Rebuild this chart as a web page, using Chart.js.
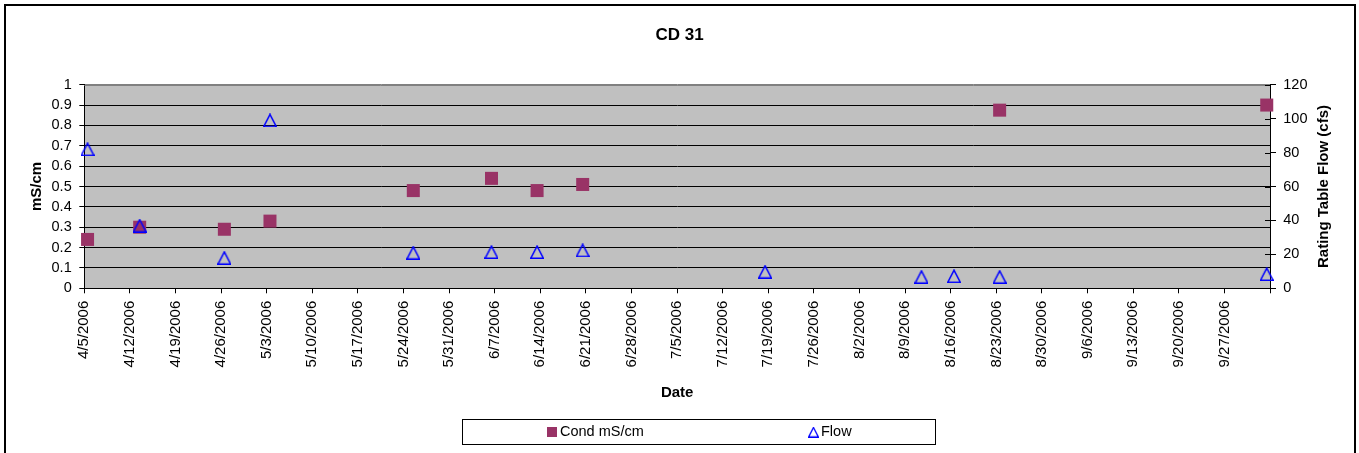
<!DOCTYPE html>
<html>
<head>
<meta charset="utf-8">
<title>CD 31</title>
<script src="https://cdn.jsdelivr.net/npm/chart.js@4.4.1/dist/chart.umd.min.js"></script>
<style>
  html, body { margin: 0; padding: 0; background: #fff; overflow: hidden; }
  #wrap { width: 1359px; height: 453px; position: relative; }
</style>
</head>
<body>
<div id="wrap"><canvas id="chart" width="1359" height="453"></canvas></div>
<script>
// ---- data ----
const axisStart = '2006-04-05';
const axisWeeks = 26;

const weekTickLabels = [
  '4/5/2006', '4/12/2006', '4/19/2006', '4/26/2006', '5/3/2006', '5/10/2006',
  '5/17/2006', '5/24/2006', '5/31/2006', '6/7/2006', '6/14/2006', '6/21/2006',
  '6/28/2006', '7/5/2006', '7/12/2006', '7/19/2006', '7/26/2006', '8/2/2006',
  '8/9/2006', '8/16/2006', '8/23/2006', '8/30/2006', '9/6/2006', '9/13/2006',
  '9/20/2006', '9/27/2006', ''
];

const condDates = [
  '2006-04-05', '2006-04-13', '2006-04-26', '2006-05-03', '2006-05-25',
  '2006-06-06', '2006-06-13', '2006-06-20', '2006-08-23', '2006-10-03'
];
const condValues = [0.24, 0.30, 0.29, 0.33, 0.48, 0.54, 0.48, 0.51, 0.875, 0.90];

const flowDates = [
  '2006-04-05', '2006-04-13', '2006-04-26', '2006-05-03', '2006-05-25',
  '2006-06-06', '2006-06-13', '2006-06-20', '2006-07-18', '2006-08-11',
  '2006-08-16', '2006-08-23', '2006-10-03'
];
const flowValues = [82, 37, 18, 99, 21, 21.4, 21.4, 22.4, 9.8, 6.8, 7.2, 6.8, 8.4];

const condTickLabels = ['0', '0.1', '0.2', '0.3', '0.4', '0.5', '0.6', '0.7', '0.8', '0.9', '1'];
const flowTickLabels = ['0', '20', '40', '60', '80', '100', '120'];

// ---- helpers ----
const FONT = "'Liberation Sans', Arial, sans-serif";
const DAY_MS = 86400000;
// each sample sits in the middle of its day on the date axis
function dayPos(d) {
  return (Date.parse(d + 'T00:00:00Z') - Date.parse(axisStart + 'T00:00:00Z')) / DAY_MS + 0.5;
}
function toPoints(dates, values) {
  return dates.map((d, i) => ({ x: dayPos(d), y: values[i] }));
}

// open blue triangle marker
function triangleMarker(w, h, lw) {
  const c = document.createElement('canvas');
  c.width = w; c.height = h;
  const g = c.getContext('2d');
  g.strokeStyle = '#0000ff';
  g.lineWidth = lw;
  g.beginPath();
  g.moveTo(w / 2, lw / 2 + 0.3);
  g.lineTo(w - lw / 2, h - lw / 2);
  g.lineTo(lw / 2, h - lw / 2);
  g.closePath();
  g.stroke();
  return c;
}
const flowMarker = triangleMarker(14, 14, 1.5);

// ---- plugins ----
const frame = {
  id: 'frame',
  beforeDraw(chart) {
    const { ctx, chartArea: a } = chart;
    ctx.save();
    ctx.fillStyle = '#ffffff';
    ctx.fillRect(0, 0, chart.width, chart.height);
    ctx.fillStyle = '#c0c0c0';
    ctx.fillRect(a.left, a.top, a.right - a.left, a.bottom - a.top);
    ctx.strokeStyle = '#000000';
    ctx.lineWidth = 2;
    ctx.strokeRect(5, 5, 1350, 470);
    ctx.restore();
  },
  afterDraw(chart) {
    const { ctx, chartArea: a } = chart;
    const y2 = chart.scales.y2;
    ctx.save();
    // plot-area top edge
    ctx.strokeStyle = '#808080';
    ctx.lineWidth = 1;
    ctx.beginPath();
    ctx.moveTo(a.left, Math.round(a.top) + 0.5);
    ctx.lineTo(a.right, Math.round(a.top) + 0.5);
    ctx.stroke();
    // secondary axis ticks cross the axis line
    ctx.strokeStyle = '#000000';
    y2.ticks.forEach((t) => {
      const py = Math.round(y2.getPixelForValue(t.value)) + 0.5;
      ctx.beginPath();
      ctx.moveTo(a.right - 5, py);
      ctx.lineTo(a.right, py);
      ctx.stroke();
    });
    // secondary axis title, reading bottom to top
    ctx.fillStyle = '#000000';
    ctx.font = 'bold 15px ' + FONT;
    ctx.textAlign = 'center';
    ctx.textBaseline = 'middle';
    ctx.translate(1324, (a.top + a.bottom) / 2);
    ctx.rotate(-Math.PI / 2);
    ctx.fillText('Rating Table Flow (cfs)', 0, 0);
    ctx.restore();

    // legend
    ctx.save();
    ctx.strokeStyle = '#000000';
    ctx.lineWidth = 1;
    ctx.strokeRect(462.5, 419.5, 473, 25);
    const ly = 432;
    const ds = chart.data.datasets;
    ctx.fillStyle = ds[0].backgroundColor;
    ctx.fillRect(547, ly - 5, 10, 10);
    ctx.drawImage(triangleMarker(11, 11, 1.3), 808, ly - 5.5);
    ctx.fillStyle = '#000000';
    ctx.font = '14.5px ' + FONT;
    ctx.textAlign = 'left';
    ctx.textBaseline = 'middle';
    ctx.fillText(ds[0].label, 560, ly);
    ctx.fillText(ds[1].label, 821, ly);
    ctx.restore();
  }
};

// ---- chart ----
new Chart(document.getElementById('chart'), {
  type: 'scatter',
  data: {
    datasets: [
      {
        label: 'Cond mS/cm',
        data: toPoints(condDates, condValues),
        yAxisID: 'y',
        order: 1,
        clip: false,
        pointStyle: 'rect',
        pointRadius: 9.2,
        backgroundColor: '#993366',
        borderWidth: 0,
        showLine: false
      },
      {
        label: 'Flow',
        data: toPoints(flowDates, flowValues),
        yAxisID: 'y2',
        order: 0,
        clip: false,
        pointStyle: flowMarker,
        pointRadius: 7,
        showLine: false
      }
    ]
  },
  options: {
    responsive: false,
    animation: false,
    devicePixelRatio: 1,
    layout: { padding: { left: 0, right: 0, top: 0, bottom: 34.7 } },
    plugins: {
      legend: { display: false },
      tooltip: { enabled: false },
      title: {
        display: true,
        text: 'CD 31',
        color: '#000',
        font: { family: FONT, size: 17, weight: 'bold' },
        padding: { top: 25.3, bottom: 39 }
      }
    },
    scales: {
      x: {
        type: 'linear',
        min: 0,
        max: axisWeeks * 7,
        afterBuildTicks(scale) {
          scale.ticks = weekTickLabels.map((_, i) => ({ value: i * 7 }));
        },
        afterFit(scale) { scale.height = 130; },
        ticks: {
          autoSkip: false,
          minRotation: 90,
          maxRotation: 90,
          padding: 7.4,
          color: '#000',
          font: { family: FONT, size: 15 },
          callback: (v, i) => weekTickLabels[i]
        },
        grid: { drawOnChartArea: false, color: '#000', tickLength: 5 },
        border: { color: '#000' },
        title: {
          display: true,
          text: 'Date',
          color: '#000',
          font: { family: FONT, size: 15, weight: 'bold' },
          padding: { top: 0, bottom: 16.8 }
        }
      },
      y: {
        position: 'left',
        min: 0,
        max: 1,
        afterBuildTicks(scale) {
          scale.ticks = condTickLabels.map((t) => ({ value: Number(t) }));
        },
        afterFit(scale) { scale.width = 84.3; },
        ticks: {
          autoSkip: false,
          padding: 7.6,
          color: '#000',
          font: { family: FONT, size: 14.5 },
          callback: (v, i) => condTickLabels[i]
        },
        grid: {
          color: (c) => (c.tick && c.tick.value === 1 ? '#808080' : '#000'),
          tickColor: '#000',
          tickLength: 5
        },
        border: { color: '#000' },
        title: {
          display: true,
          text: 'mS/cm',
          color: '#000',
          font: { family: FONT, size: 15, weight: 'bold' },
          padding: { top: 27.7, bottom: 0 }
        }
      },
      y2: {
        position: 'right',
        min: 0,
        max: 120,
        afterBuildTicks(scale) {
          scale.ticks = flowTickLabels.map((t) => ({ value: Number(t) }));
        },
        afterFit(scale) { scale.width = 89; },
        ticks: {
          autoSkip: false,
          padding: 7.3,
          color: '#000',
          font: { family: FONT, size: 14.5 },
          callback: (v, i) => flowTickLabels[i]
        },
        grid: { drawOnChartArea: false, color: '#000', tickLength: 6 },
        border: { color: '#000' }
      }
    }
  },
  plugins: [frame]
});
</script>
</body>
</html>
